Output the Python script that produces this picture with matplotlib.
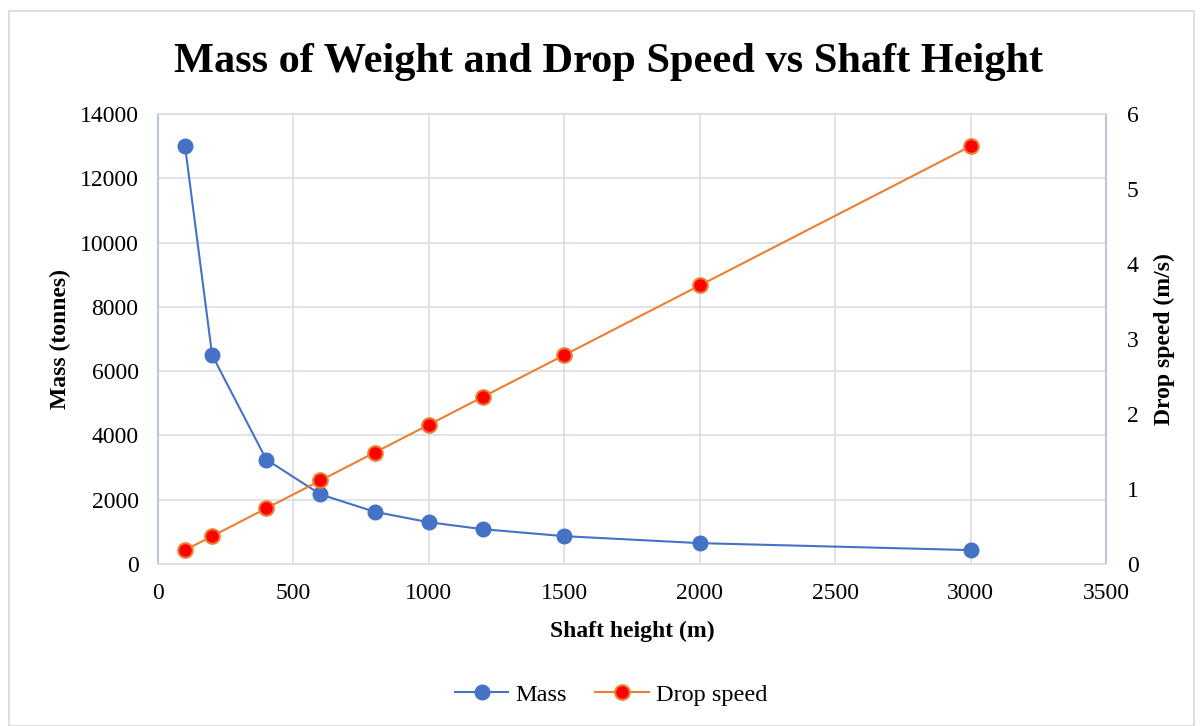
import matplotlib.pyplot as plt
from matplotlib.patches import Rectangle

# Shaft heights (m) and corresponding results
shaft_height = [100, 200, 400, 600, 800, 1000, 1200, 1500, 2000, 3000]
mass_tonnes = [13000, 6500, 3250, 2167, 1625, 1300, 1083, 867, 650, 433]
drop_speed = [0.186, 0.371, 0.743, 1.114, 1.486, 1.857, 2.229, 2.786, 3.714, 5.571]

plt.rcParams['font.family'] = ['Liberation Serif', 'DejaVu Serif']

grid_col = '#d9dee7'
spine_col = '#b7c4d8'

fig = plt.figure(figsize=(12.03, 7.26), dpi=100)
fig.patches.append(Rectangle((9 / 1203, 0), 1 - 18 / 1203, 1 - 11 / 726,
                             transform=fig.transFigure, fill=False,
                             edgecolor='#d9d9d9', linewidth=1.2))

ax = fig.add_axes([0.1313, 0.2231, 0.7881, 0.6199])
ax2 = ax.twinx()

l1, = ax.plot(shaft_height, mass_tonnes, color='#4472C4', linewidth=1.5,
              marker='o', markersize=10.5, markerfacecolor='#4472C4',
              markeredgecolor='#4472C4', label='Mass', zorder=3)
l2, = ax2.plot(shaft_height, drop_speed, color='#ED7D31', linewidth=1.5,
               marker='o', markersize=10.5, markerfacecolor='#FF0000',
               markeredgecolor='#ED7D31', markeredgewidth=1.5,
               label='Drop speed', zorder=3)

ax.set_xlim(0, 3500)
ax.set_ylim(0, 14000)
ax2.set_ylim(0, 6)
ax.set_xticks(range(0, 3501, 500))
ax.set_yticks(range(0, 14001, 2000))
ax2.set_yticks(range(0, 7))

ax.grid(True, color=grid_col, linewidth=1.2)
ax.set_axisbelow(True)

for a in (ax, ax2):
    a.spines['top'].set_color(grid_col)
    a.spines['bottom'].set_color(grid_col)
    a.spines['left'].set_color(spine_col)
    a.spines['right'].set_color(spine_col)
    for s in a.spines.values():
        s.set_linewidth(1.2)
    a.tick_params(length=0, labelsize=17, colors='black')
ax.tick_params(axis='y', pad=14)
ax.tick_params(axis='x', pad=14)
ax2.tick_params(axis='y', pad=15)

ax.set_xlabel('Shaft height (m)', fontsize=17, fontweight='bold', labelpad=12)
ax.set_ylabel('Mass (tonnes)', fontsize=17, fontweight='bold', labelpad=6)
ax2.set_ylabel('Drop speed (m/s)', fontsize=17, fontweight='bold', labelpad=11)

fig.suptitle('Mass of Weight and Drop Speed vs Shaft Height', x=0.506, y=0.941,
             fontsize=30.5, fontweight='bold')

fig.legend(handles=[l1, l2], loc='center', bbox_to_anchor=(0.508, 0.043),
           ncol=2, frameon=False, fontsize=17.5, handlelength=2.2,
           columnspacing=1.15, handletextpad=0.3)

plt.savefig('out.png', dpi=100)
